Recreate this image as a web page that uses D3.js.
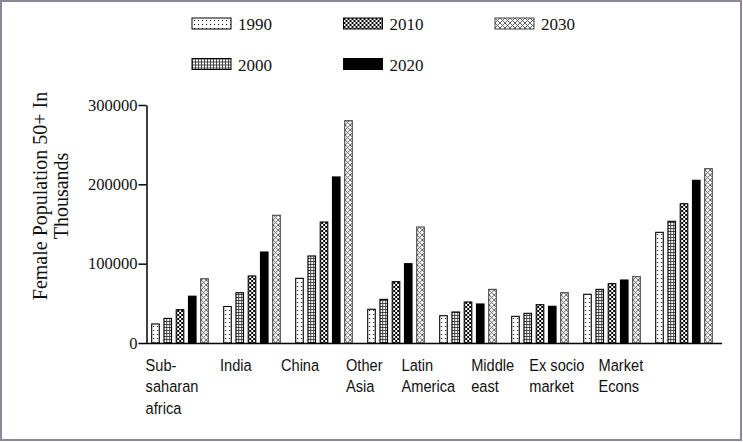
<!DOCTYPE html>
<html lang="en">
  <head>
    <meta charset="UTF-8" />
    <title>Female Population 50+</title>
    <script src="https://cdnjs.cloudflare.com/ajax/libs/d3/7.9.0/d3.min.js"></script>
    <style>
      html,
      body {
        margin: 0;
        padding: 0;
        background: #ffffff;
      }
      svg {
        display: block;
      }
      .tick text {
        font-family: "Liberation Serif", "Times New Roman", serif;
        font-size: 16.5px;
        fill: #111;
      }
      .tick line,
      .domain {
        stroke: #000;
        stroke-width: 1.5px;
      }
    </style>
  </head>
  <body>
    <svg id="chart" width="743" height="442"></svg>

    <script>
      /* ---------- data (thousands) ---------- */
      const categories = [
        "Sub-saharan africa",
        "India",
        "China",
        "Other Asia",
        "Latin America",
        "Middle east",
        "Ex socio market",
        "Market Econs",
      ];
      const categoryLines = [
        ["Sub-", "saharan", "africa"],
        ["India"],
        ["China"],
        ["Other", "Asia"],
        ["Latin", "America"],
        ["Middle", "east"],
        ["Ex socio", "market"],
        ["Market", "Econs"],
      ];
      const years = ["1990", "2000", "2010", "2020", "2030"];

      const v1990 = [24000, 46000, 81500, 42500, 34400, 33600, 61400, 139500];
      const v2000 = [31000, 63400, 109700, 55000, 39100, 37400, 67600, 153400];
      const v2010 = [42000, 84500, 152500, 77300, 51700, 48300, 74800, 175600];
      const v2020 = [59000, 114700, 209300, 100000, 49200, 46300, 79400, 205100];
      const v2030 = [81000, 161000, 280200, 146200, 67600, 63400, 83600, 219700];
      const seriesValues = [v1990, v2000, v2010, v2020, v2030];

      const yTicks = [0, 100000, 200000, 300000];

      /* ---------- setup ---------- */
      const svg = d3.select("#chart");

      // gray frame
      svg
        .append("rect")
        .attr("x", 1)
        .attr("y", 1)
        .attr("width", 740)
        .attr("height", 439)
        .attr("fill", "#fff")
        .attr("stroke", "#8e879a")
        .attr("stroke-width", 2);

      /* ---------- fill patterns ---------- */
      const defs = svg.append("defs");
      const pat = (id, w, h) => {
        const p = defs
          .append("pattern")
          .attr("id", id)
          .attr("patternUnits", "userSpaceOnUse")
          .attr("width", w)
          .attr("height", h);
        p.append("rect").attr("width", w).attr("height", h).attr("fill", "#fff");
        return p;
      };

      // 1990: sparse dots
      pat("p1990", 4, 4)
        .append("rect")
        .attr("x", 2)
        .attr("y", 2)
        .attr("width", 1)
        .attr("height", 1)
        .attr("fill", "#000");

      // 2000: fine grid
      const p2 = pat("p2000", 3, 3);
      p2.append("rect").attr("width", 1).attr("height", 3).attr("fill", "#444");
      p2.append("rect").attr("width", 3).attr("height", 1).attr("fill", "#444");

      // 2010: checkerboard
      const p3 = pat("p2010", 4, 4);
      p3.append("rect").attr("width", 2).attr("height", 2).attr("fill", "#000");
      p3.append("rect")
        .attr("x", 2)
        .attr("y", 2)
        .attr("width", 2)
        .attr("height", 2)
        .attr("fill", "#000");

      // 2030: diagonal crosshatch
      const p5 = pat("p2030", 5, 5);
      p5.append("path")
        .attr("d", "M0,0L5,5M5,0L0,5")
        .attr("stroke", "#555")
        .attr("stroke-width", 0.9);

      const fills = ["url(#p1990)", "url(#p2000)", "url(#p2010)", "#000", "url(#p2030)"];
      const strokes = ["#000", "#000", "#000", "#000", "#444"];

      /* ---------- scales ---------- */
      const y = d3.scaleLinear().domain([0, 300000]).range([343, 105]);

      const x0 = d3
        .scaleBand()
        .domain(categories)
        .range([144, 720])
        .paddingInner(0.2)
        .paddingOuter(0.1);

      const x1 = d3
        .scaleBand()
        .domain(years)
        .range([0, x0.bandwidth()])
        .paddingInner(0.3);

      // label centres are spread a little tighter than the bar groups
      const xLabel = d3.scalePoint().domain(categories).range([172, 621]);

      /* ---------- bars ---------- */
      const groups = svg
        .append("g")
        .selectAll("g")
        .data(categories)
        .join("g")
        .attr("transform", (c) => `translate(${x0(c)},0)`);

      groups
        .selectAll("rect")
        .data((c, ci) => years.map((yr, si) => ({ yr, si, v: seriesValues[si][ci] })))
        .join("rect")
        .attr("x", (d) => x1(d.yr) + 0.5)
        .attr("y", (d) => y(d.v))
        .attr("width", x1.bandwidth() - 1)
        .attr("height", (d) => y(0) - y(d.v))
        .attr("fill", (d) => fills[d.si])
        .attr("stroke", (d) => strokes[d.si])
        .attr("stroke-width", 1.1);

      /* ---------- axes ---------- */
      svg
        .append("g")
        .attr("transform", "translate(146.5,0)")
        .call(
          d3
            .axisLeft(y)
            .tickValues(yTicks)
            .tickSize(8)
            .tickSizeOuter(0)
            .tickPadding(1)
            .tickFormat(d3.format("d"))
        );

      svg
        .append("line")
        .attr("x1", 146)
        .attr("x2", 722)
        .attr("y1", y(0) + 0.5)
        .attr("y2", y(0) + 0.5)
        .attr("stroke", "#000")
        .attr("stroke-width", 1.5);

      /* ---------- category labels ---------- */
      const labels = svg
        .append("g")
        .selectAll("g")
        .data(categories)
        .join("g");

      labels.each(function (c, i) {
        const g = d3.select(this);
        const t = g
          .append("text")
          .attr("font-family", "'Liberation Sans', Arial, sans-serif")
          .attr("font-size", 17)
          .attr("fill", "#111");
        categoryLines[i].forEach((ln, k) => {
          t.append("tspan").attr("x", 0).attr("y", k * 21.7).text(ln);
        });
        const w = t.node().getBBox().width * 0.86;
        g.attr("transform", `translate(${xLabel(c) - w / 2},370.5) scale(0.86,1)`);
      });

      /* ---------- y title ---------- */
      const title = svg
        .append("text")
        .attr("transform", "translate(47,196) rotate(-90)")
        .attr("text-anchor", "middle")
        .attr("font-family", "'Liberation Serif', 'Times New Roman', serif")
        .attr("font-size", 20)
        .attr("fill", "#111");
      title.append("tspan").attr("x", 0).attr("y", 0).text("Female Population 50+ In");
      title.append("tspan").attr("x", 0).attr("y", 21).text("Thousands");

      /* ---------- legend ---------- */
      const legend = svg
        .append("g")
        .selectAll("g")
        .data(years)
        .join("g")
        .attr("transform", (d, i) => `translate(${192 + Math.floor(i / 2) * 151.5},${18 + (i % 2) * 40.5})`);

      legend
        .append("rect")
        .attr("width", 39)
        .attr("height", 11)
        .attr("fill", (d, i) => fills[i])
        .attr("stroke", (d, i) => strokes[i])
        .attr("stroke-width", 1);

      legend
        .append("text")
        .attr("x", 46)
        .attr("y", 12)
        .attr("font-family", "'Liberation Serif', 'Times New Roman', serif")
        .attr("font-size", 17)
        .attr("fill", "#111")
        .text((d) => d);
    </script>
  </body>
</html>
